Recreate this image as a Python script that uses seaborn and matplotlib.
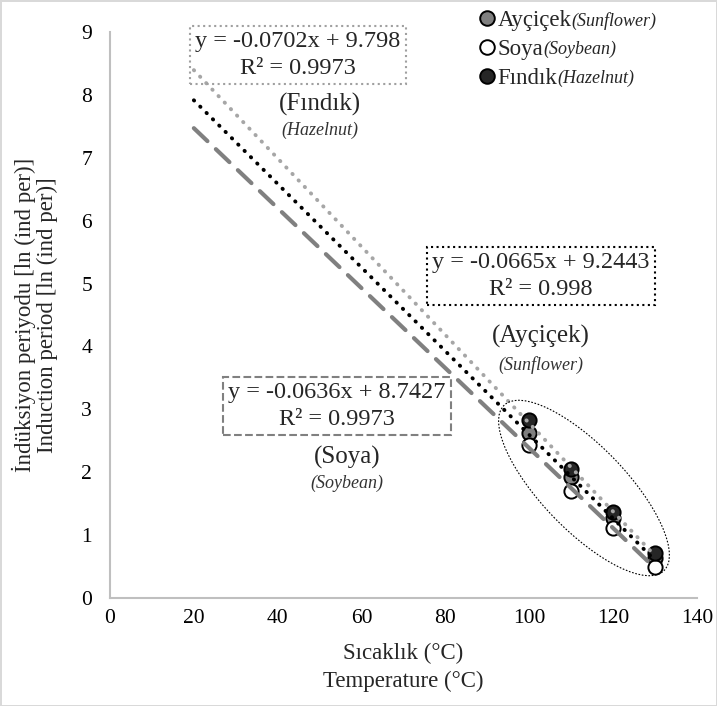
import numpy as np
import pandas as pd
import matplotlib
matplotlib.use("Agg")
import matplotlib.pyplot as plt
import seaborn as sns
from matplotlib.patches import Ellipse
from matplotlib.lines import Line2D

# ---- data ----
temps = [100, 110, 120, 130]
aycicek = [2.62, 1.92, 1.27, 0.63]
soya = [2.43, 1.70, 1.11, 0.50]
findik = [2.83, 2.05, 1.37, 0.72]

series_tr = ["Ayçiçek", "Soya", "Fındık"]
series_en = ["(Sunflower)", "(Soybean)", "(Hazelnut)"]

slopes = [-0.0665, -0.0636, -0.0702]
intercepts = [9.2443, 8.7427, 9.798]
r2 = [0.998, 0.9973, 0.9973]
trend_x = [20, 130]

x_ticks = [0, 20, 40, 60, 80, 100, 120, 140]
y_ticks = [0, 1, 2, 3, 4, 5, 6, 7, 8, 9]

xlabel = "Sıcaklık (°C)\nTemperature (°C)"
ylabel = "İndüksiyon periyodu [ln (ind per)]\nInduction period [ln (ind per)]"

# ---- style ----
sns.set_theme(style="white")
plt.rcParams["font.family"] = ["Liberation Serif", "DejaVu Serif"]

W, H = 717, 706
fig = plt.figure(figsize=(W / 100, H / 100), dpi=100)
fig.patch.set_edgecolor("#d9d9d9")
fig.patch.set_linewidth(2)

ax = fig.add_axes([110 / W, 1 - 598 / H, (697 - 110) / W, (598 - 32) / H])

df = pd.DataFrame({
    "T": temps * 3,
    "val": aycicek + soya + findik,
    "series": sum([[s] * len(temps) for s in series_tr], []),
})

face = {"Ayçiçek": "#7f7f7f", "Soya": "white", "Fındık": "#262626"}
for s in series_tr:
    sub = df[df["series"] == s]
    sns.scatterplot(data=sub, x="T", y="val", ax=ax, s=105, color=face[s],
                    edgecolor="black", linewidth=1.4, zorder=3, legend=False)

# trend lines
line_styles = {
    "Ayçiçek": dict(color="black", linestyle=(0, (0.1, 2.2)), linewidth=2.8, dash_capstyle="round"),
    "Soya": dict(color="#808080", linestyle=(0, (4.5, 2.8)), linewidth=3.0, dash_capstyle="round"),
    "Fındık": dict(color="#a6a6a6", linestyle=(0, (0.1, 2.2)), linewidth=2.8, dash_capstyle="round"),
}
for s, m, b in zip(series_tr, slopes, intercepts):
    tx = np.array(trend_x, dtype=float)
    tdf = pd.DataFrame({"T": tx, "y": m * tx + b})
    sns.lineplot(data=tdf, x="T", y="y", ax=ax, zorder=4, **line_styles[s])

ax.set_xlim(0, 140)
ax.set_ylim(0, 9)
ax.set_xticks(x_ticks)
ax.set_yticks(y_ticks)
ax.tick_params(axis="both", length=0, labelsize=15.5, colors="black")
ax.tick_params(axis="x", pad=8)
ax.tick_params(axis="y", pad=13)
for sp in ["top", "right"]:
    ax.spines[sp].set_visible(False)
for sp in ["left", "bottom"]:
    ax.spines[sp].set_color("#bfbfbf")
    ax.spines[sp].set_linewidth(1.5)
ax.set_xlabel(xlabel, fontsize=16.5, linespacing=1.4)
ax.set_ylabel(ylabel, fontsize=16.5, linespacing=1.05)
ax.xaxis.set_label_coords(0.5, -0.08)
ax.yaxis.set_label_coords(-0.088, 0.5)

# ellipse (drawn in figure inches)
ell = Ellipse((584 / 100, (H - 488) / 100), 2.30, 0.84, angle=-46,
              transform=fig.dpi_scale_trans, fill=False, edgecolor="black",
              linewidth=0.8, linestyle=(0, (1.5, 1.5)), zorder=5)
ax.add_patch(ell)

def px(x, y):
    return x / W, 1 - y / H

# equation boxes
box_pos = {"Ayçiçek": (541, 276), "Soya": (337, 406), "Fındık": (298, 55)}
box_ls = {"Ayçiçek": ":", "Soya": "--", "Fındık": ":"}
box_ec = {"Ayçiçek": "black", "Soya": "#808080", "Fındık": "#a0a0a0"}
for s, m, b, r in zip(series_tr, slopes, intercepts, r2):
    eq = f"y = {m:g}x + {b:g}\nR² = {r:g}"
    fx, fy = px(*box_pos[s])
    fig.text(fx, fy, eq, ha="center", va="center", fontsize=17.5, linespacing=1.35,
             zorder=1,
             bbox=dict(boxstyle="square,pad=0.22", facecolor="none",
                       edgecolor=box_ec[s], linestyle=box_ls[s], linewidth=1.5))

# name labels
name_pos = {"Ayçiçek": (541, 336, 365), "Soya": (347, 457, 483), "Fındık": (320, 104, 130)}
for s, e in zip(series_tr, series_en):
    x, y1, y2 = name_pos[s]
    fig.text(*px(x, y1), f"({s})", ha="center", va="center", fontsize=18)
    fig.text(*px(x, y2), e, ha="center", va="center", fontsize=13, style="italic",
             color="#333333")

# legend
handles = [Line2D([], [], linestyle="none", marker="o", markersize=10.5,
                  markerfacecolor=face[s], markeredgecolor="black", markeredgewidth=1.4)
           for s in series_tr]
leg = fig.legend(handles, series_tr, loc="upper left", bbox_to_anchor=px(463, -6),
                 frameon=False, fontsize=16.5, handlelength=0.7, handletextpad=0.1,
                 labelspacing=0.34, borderpad=0.2)
fig.canvas.draw()
renderer = fig.canvas.get_renderer()
inv = fig.transFigure.inverted()
for t, e in zip(leg.get_texts(), series_en):
    bb = t.get_window_extent(renderer)
    x0, y0 = inv.transform((bb.x1, (bb.y0 + bb.y1) / 2))
    fig.text(x0, y0, e, ha="left", va="center", fontsize=13, style="italic")

fig.savefig("out.png", dpi=100, edgecolor=fig.get_edgecolor())
